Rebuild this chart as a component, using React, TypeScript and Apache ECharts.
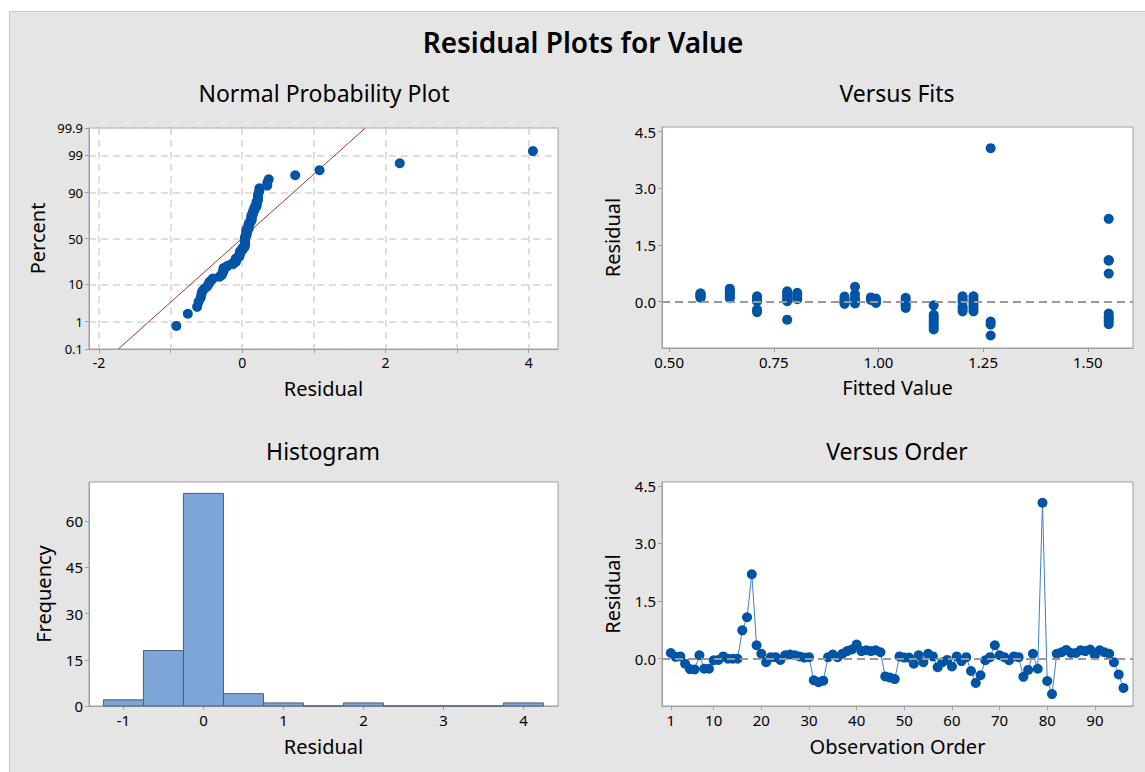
import React, { useEffect, useRef } from "react";
import * as echarts from "echarts";

// ---------- data ----------
const orderResiduals = [
  0.15, 0.05, 0.06, -0.13, -0.27, -0.28, 0.09, -0.26, -0.26, -0.04,
  -0.03, 0.06, 0.0, 0.0, 0.0, 0.74, 1.08, 2.2, 0.35, 0.13,
  -0.09, 0.04, 0.04, -0.03, 0.09, 0.11, 0.09, 0.06, 0.03, 0.04,
  -0.56, -0.61, -0.57, 0.04, 0.11, 0.04, 0.13, 0.2, 0.24, 0.37,
  0.2, 0.22, 0.2, 0.22, 0.17, -0.46, -0.49, -0.53, 0.06, 0.03,
  0.03, -0.13, 0.09, -0.09, 0.13, 0.06, -0.22, -0.09, -0.03, -0.2,
  0.06, -0.06, 0.04, -0.32, -0.63, -0.43, -0.04, 0.04, 0.35, 0.09,
  0.04, -0.04, 0.06, 0.04, -0.47, -0.29, 0.13, -0.26, 4.06, -0.58,
  -0.92, 0.13, 0.17, 0.23, 0.15, 0.15, 0.22, 0.2, 0.24, 0.09,
  0.22, 0.17, 0.13, -0.09, -0.41, -0.76,
];

const fitsFitted = [
  0.575, 0.575, 0.575, 0.575, 0.575, 0.575,
  0.645, 0.645, 0.645, 0.645, 0.645, 0.645,
  0.71, 0.71, 0.71, 0.71, 0.71,
  0.782, 0.782, 0.782, 0.782, 0.782, 0.782,
  0.806, 0.806, 0.806, 0.806,
  0.919, 0.919, 0.919, 0.919, 0.919,
  0.944, 0.944, 0.944, 0.944, 0.944,
  0.982, 0.982, 0.982,
  0.994, 0.994, 0.994,
  1.065, 1.065, 1.065, 1.065, 1.065,
  1.132, 1.132, 1.132, 1.132, 1.132, 1.132, 1.132,
  1.201, 1.201, 1.201, 1.201, 1.201, 1.201,
  1.227, 1.227, 1.227, 1.227, 1.227, 1.227,
  1.268, 1.268, 1.268, 1.268,
  1.55, 1.55, 1.55, 1.55, 1.55, 1.55, 1.55, 1.55, 1.55,
];
const fitsResiduals = [
  0.1, 0.14, 0.18, 0.22, 0.2, 0.12,
  0.09, 0.14, 0.19, 0.24, 0.29, 0.34,
  0.14, 0.06, 0.01, -0.21, -0.28,
  0.27, 0.2, 0.14, 0.06, 0.01, -0.48,
  0.23, 0.18, 0.1, 0.06,
  0.13, 0.07, 0.02, -0.03, -0.06,
  0.39, 0.19, 0.08, 0.01, -0.05,
  0.11, 0.07, 0.04,
  0.08, 0.02, -0.04,
  0.1, 0.03, -0.04, -0.1, -0.17,
  -0.1, -0.35, -0.43, -0.5, -0.58, -0.66, -0.74,
  0.14, 0.07, 0.01, -0.14, -0.2, -0.26,
  0.14, 0.05, -0.02, -0.1, -0.17, -0.26,
  4.06, -0.53, -0.61, -0.9,
  2.19, 1.1, 1.08, 0.74, -0.32, -0.4, -0.45, -0.52, -0.6,
];

const histBinStarts = [-1.25, -0.75, -0.25, 0.25, 0.75, 1.25, 1.75, 2.25, 2.75, 3.25, 3.75];
const histBinWidth = 0.5;
const histCounts = [2, 18, 69, 4, 1, 0, 1, 0, 0, 0, 1];

const nppPercentTicks = [0.1, 1, 10, 50, 90, 99, 99.9];
const nppResidualTicks = [-2, -1, 0, 1, 2, 3, 4];
const nppResidualLabels = [-2, 0, 2, 4];
const nppFitLineResidual = [-1.73, 1.72];
const nppFitLinePercent = [0.1, 99.9];

const fitsXTicks = [0.5, 0.75, 1.0, 1.25, 1.5];
const residualTicks = [0, 1.5, 3.0, 4.5];
const orderXTicks = [1, 10, 20, 30, 40, 50, 60, 70, 80, 90];
const histXTicks = [-1, 0, 1, 2, 3, 4];
const histYTicks = [0, 15, 30, 45, 60];

// ---------- helpers ----------
function normInv(p: number): number {
  const a = [-3.969683028665376e1, 2.209460984245205e2, -2.759285104469687e2, 1.38357751867269e2, -3.066479806614716e1, 2.506628277459239];
  const b = [-5.447609879822406e1, 1.615858368580409e2, -1.556989798598866e2, 6.680131188771972e1, -1.328068155288572e1];
  const c = [-7.784894002430293e-3, -3.223964580411365e-1, -2.400758277161838, -2.549671348254464, 4.374664141464968, 2.938163982699891];
  const d = [7.784695709041462e-3, 3.224671290700398e-1, 2.445134137142996, 3.754408661907416];
  const pl = 0.02425;
  if (p < pl) {
    const q = Math.sqrt(-2 * Math.log(p));
    return (((((c[0] * q + c[1]) * q + c[2]) * q + c[3]) * q + c[4]) * q + c[5]) / ((((d[0] * q + d[1]) * q + d[2]) * q + d[3]) * q + 1);
  }
  if (p <= 1 - pl) {
    const q = p - 0.5;
    const r = q * q;
    return ((((((a[0] * r + a[1]) * r + a[2]) * r + a[3]) * r + a[4]) * r + a[5]) * q) / (((((b[0] * r + b[1]) * r + b[2]) * r + b[3]) * r + b[4]) * r + 1);
  }
  const q = Math.sqrt(-2 * Math.log(1 - p));
  return -(((((c[0] * q + c[1]) * q + c[2]) * q + c[3]) * q + c[4]) * q + c[5]) / ((((d[0] * q + d[1]) * q + d[2]) * q + d[3]) * q + 1);
}

const FONT = "'Noto Sans', 'Open Sans', sans-serif";
const TXT = "#000";
const AXIS_GRAY = "#A0A0A0";
const BLUE = "#0054A6";

const nppZTicks = nppPercentTicks.map((p) => normInv(p / 100));
const sorted = [...orderResiduals].sort((x, y) => x - y);
const nN = sorted.length;
const nppPoints = sorted.map((v, i) => [v, normInv((i + 1 - 0.3) / (nN + 0.4))]);
const nppLine = nppFitLineResidual.map((v, i) => [v, normInv(nppFitLinePercent[i] / 100)]);

function makeAxis(o: any) {
  return {
    type: "value",
    gridIndex: o.grid,
    min: o.min,
    max: o.max,
    name: o.name,
    nameLocation: "middle",
    nameGap: o.nameGap,
    nameTextStyle: { fontSize: 20, color: TXT, fontFamily: FONT },
    axisLine: { show: true, onZero: false, lineStyle: { color: AXIS_GRAY, width: 1 } },
    axisTick: { show: true, length: 4, lineStyle: { color: AXIS_GRAY }, customValues: o.ticks },
    axisLabel: {
      color: TXT,
      fontSize: o.labelSize || 15,
      fontFamily: FONT,
      margin: 6,
      customValues: o.labels || o.ticks,
      formatter: o.formatter,
    },
    splitLine: o.split
      ? { show: true, lineStyle: { color: "#D4D4D4", type: [7, 5], width: 1.5 } }
      : { show: false },
  };
}

const zeroLine = {
  silent: true,
  symbol: ["none", "none"],
  label: { show: false },
  lineStyle: { type: [8, 5], color: "#999", width: 2 },
  data: [{ yAxis: 0 }],
};

const titleStyle = (text: string) => ({ text, font: `23px ${FONT}`, fill: "#000", align: "center", verticalAlign: "middle" });

const option: any = {
  animation: false,
  textStyle: { fontFamily: FONT },
  graphic: [
    { type: "text", x: 583, y: 42, style: { text: "Residual Plots for Value", font: `600 28px ${FONT}`, fill: "#000", align: "center", verticalAlign: "middle" } },
    { type: "text", x: 324, y: 93, style: titleStyle("Normal Probability Plot") },
    { type: "text", x: 897, y: 93, style: titleStyle("Versus Fits") },
    { type: "text", x: 323, y: 451, style: titleStyle("Histogram") },
    { type: "text", x: 897, y: 451, style: titleStyle("Versus Order") },
  ],
  grid: [
    { left: 89, top: 128, width: 469, height: 221, show: true, backgroundColor: "#fff", borderColor: AXIS_GRAY, borderWidth: 1 },
    { left: 662, top: 127, width: 471, height: 221, show: true, backgroundColor: "#fff", borderColor: AXIS_GRAY, borderWidth: 1 },
    { left: 89, top: 482, width: 469, height: 224, show: true, backgroundColor: "#fff", borderColor: AXIS_GRAY, borderWidth: 1 },
    { left: 662, top: 482, width: 471, height: 224, show: true, backgroundColor: "#fff", borderColor: AXIS_GRAY, borderWidth: 1 },
  ],
  xAxis: [
    makeAxis({ grid: 0, min: -2.14, max: 4.41, ticks: nppResidualTicks, labels: nppResidualLabels, name: "Residual", nameGap: 29, split: true, labelSize: 14, formatter: (v: number) => String(v) }),
    makeAxis({ grid: 1, min: 0.483, max: 1.608, ticks: fitsXTicks, name: "Fitted Value", nameGap: 29, formatter: (v: number) => v.toFixed(2) }),
    makeAxis({ grid: 2, min: -1.43, max: 4.43, ticks: histXTicks, name: "Residual", nameGap: 30, formatter: (v: number) => String(v) }),
    makeAxis({ grid: 3, min: -0.85, max: 98, ticks: orderXTicks, name: "Observation Order", nameGap: 30, formatter: (v: number) => String(v) }),
  ],
  yAxis: [
    makeAxis({
      grid: 0, min: nppZTicks[0], max: nppZTicks[nppZTicks.length - 1], ticks: nppZTicks, name: "Percent", nameGap: 42, split: true, labelSize: 13,
      formatter: (v: number) => {
        let best = 0;
        nppZTicks.forEach((z, i) => { if (Math.abs(z - v) < Math.abs(nppZTicks[best] - v)) best = i; });
        return String(nppPercentTicks[best]);
      },
    }),
    makeAxis({ grid: 1, min: -1.23, max: 4.62, ticks: residualTicks, name: "Residual", nameGap: 40, formatter: (v: number) => v.toFixed(1) }),
    makeAxis({ grid: 2, min: 0, max: 72.7, ticks: histYTicks, name: "Frequency", nameGap: 36, formatter: (v: number) => String(v) }),
    makeAxis({ grid: 3, min: -1.23, max: 4.6, ticks: residualTicks, name: "Residual", nameGap: 40, formatter: (v: number) => v.toFixed(1) }),
  ],
  series: [
    {
      type: "line", xAxisIndex: 0, yAxisIndex: 0, data: nppLine, symbol: "none",
      lineStyle: { color: "#A83232", width: 1 }, silent: true, z: 2,
    },
    {
      type: "scatter", xAxisIndex: 0, yAxisIndex: 0, data: nppPoints, symbol: "circle", symbolSize: 10,
      itemStyle: { color: BLUE, opacity: 1 }, z: 3,
    },
    {
      type: "scatter", xAxisIndex: 1, yAxisIndex: 1,
      data: fitsFitted.map((f, i) => [f, fitsResiduals[i]]),
      symbol: "circle", symbolSize: 10, itemStyle: { color: BLUE, opacity: 1 }, markLine: zeroLine,
    },
    {
      type: "custom", xAxisIndex: 2, yAxisIndex: 2,
      data: histBinStarts.map((s, i) => [s, s + histBinWidth, histCounts[i]]),
      encode: { x: [0, 1], y: 2 },
      renderItem: (params: any, api: any) => {
        const p0 = api.coord([api.value(0), api.value(2)]);
        const p1 = api.coord([api.value(1), 0]);
        return {
          type: "rect",
          shape: { x: p0[0], y: p0[1], width: p1[0] - p0[0], height: p1[1] - p0[1] },
          style: { fill: "#7DA6D8", stroke: "#4A5E7A", lineWidth: 1 },
        };
      },
    },
    {
      type: "line", xAxisIndex: 3, yAxisIndex: 3,
      data: orderResiduals.map((v, i) => [i + 1, v]),
      symbol: "circle", symbolSize: 10, showSymbol: true, showAllSymbol: true,
      itemStyle: { color: BLUE, opacity: 1 },
      lineStyle: { color: "#3F7FC8", width: 1 },
      markLine: zeroLine,
    },
  ],
};

export default function App() {
  const ref = useRef<HTMLDivElement>(null);
  useEffect(() => {
    document.body.style.margin = "0";
    const chart = echarts.init(ref.current!, null, { renderer: "svg" });
    chart.setOption(option);
    return () => chart.dispose();
  }, []);
  return (
    <div style={{ position: "relative", width: 1145, height: 772, background: "#fff", overflow: "hidden" }}>
      <div
        style={{
          position: "absolute", left: 9, top: 11, right: 0, bottom: 0,
          background: "#E5E5E5", borderLeft: "1px solid #C8C8C8", borderTop: "1px solid #C8C8C8",
        }}
      />
      <div ref={ref} style={{ position: "absolute", left: 0, top: 0, width: 1145, height: 772 }} />
    </div>
  );
}
